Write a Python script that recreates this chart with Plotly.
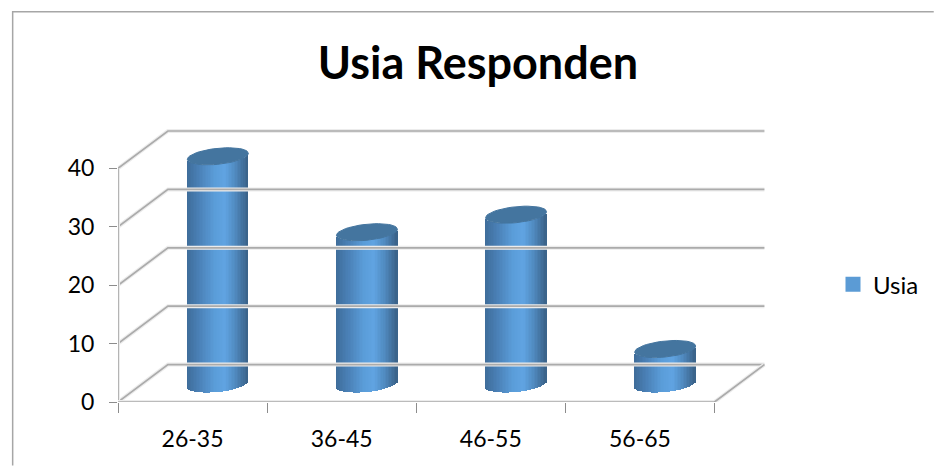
import math
import plotly.graph_objects as go

categories = ["26-35", "36-45", "46-55", "56-65"]
usia_values = [39, 26, 29, 6]
y_ticks = [0, 10, 20, 30, 40]
title_text = "Usia Responden"
series_name = "Usia"

FONT = "Lato, Carlito, sans-serif"
W, H = 935, 466
L, R, T, B = 118, 767, 129, 402.5      # plot box in px
PX_X, PX_Y = 149.35, 5.85             # px per category / per unit
DX, DY = 50 / PX_X, 37.5 / PX_Y       # depth of the 3D box
GRID = "#ababab"
SHADOW = "#ececec"
TICK = "#8c8c8c"
CAP = "#44759f"

HALF_W = 30.5 / PX_X
ELL_B = 8.0 / PX_Y
ELL_K = 3.0 / PX_Y
OFF_X = 25.3 / PX_X
OFF_Y = 18.0 / PX_Y

stops = [(-1, (62, 108, 153)), (-0.6, (74, 128, 182)), (-0.1, (90, 156, 216)),
         (0.25, (96, 164, 226)), (0.6, (80, 138, 192)), (0.85, (66, 112, 156)), (1, (58, 98, 136))]


def shade(u):
    for (a, ca), (b, cb) in zip(stops, stops[1:]):
        if a <= u <= b:
            t = (u - a) / (b - a)
            return "rgb(%d,%d,%d)" % tuple(round(p + (q - p) * t) for p, q in zip(ca, cb))
    return "rgb(%d,%d,%d)" % stops[-1][1]


def guide(fig, xs, ys):
    for color, width in ((SHADOW, 4), (GRID, 1.7)):
        fig.add_trace(go.Scatter(x=xs, y=ys, mode="lines", line=dict(color=color, width=width),
                                 hoverinfo="skip", showlegend=False, cliponaxis=False))


fig = go.Figure()

# 3D box: walls and floor
x0, x1 = -0.5, len(categories) - 0.5
for v in y_ticks:
    guide(fig, [x0, x0 + DX, x1 + DX], [v, v + DY, v + DY])
guide(fig, [x0, x0], [y_ticks[0], y_ticks[-1]])
guide(fig, [x0, x1, x1 + DX], [0, 0, DY])

# Cylinders: narrow vertical slices give the shaded body
N = 40
xc = [i + OFF_X for i in range(len(categories))]
for j in range(N):
    u = -1 + (j + 0.5) * 2 / N
    edge = ELL_K * u - ELL_B * math.sqrt(max(0, 1 - u * u))
    fig.add_trace(go.Bar(
        x=[c + u * HALF_W for c in xc],
        y=usia_values,
        base=[OFF_Y + edge] * len(categories),
        width=HALF_W * 2 / N * 1.25,
        marker=dict(color=shade(u), line=dict(width=0)),
        hoverinfo="skip", showlegend=False))

# Cylinder top caps
for c, v in zip(xc, usia_values):
    ts = [2 * math.pi * k / 48 for k in range(49)]
    fig.add_trace(go.Scatter(
        x=[c + HALF_W * math.cos(t) for t in ts],
        y=[OFF_Y + v + ELL_K * math.cos(t) + ELL_B * math.sin(t) for t in ts],
        mode="lines", fill="toself", fillcolor=CAP, line=dict(color=CAP, width=1),
        hoverinfo="skip", showlegend=False))

# Legend entry
fig.add_trace(go.Scatter(x=[None], y=[None], mode="markers", name=series_name,
                         marker=dict(symbol="square", size=15, color="#5b9bd5")))


def px(x):
    return (x - L) / (R - L)


def py(y):
    return (B - y) / (B - T)


fig.add_shape(type="path", xref="paper", yref="paper",
              path=f"M {px(12.5)} {py(466)} L {px(12.5)} {py(11.5)} L {px(935)} {py(11.5)}",
              line=dict(color="#a6a6a6", width=1.5))

fig.update_layout(
    width=W, height=H, autosize=False, barmode="overlay", bargap=0,
    paper_bgcolor="white", plot_bgcolor="white",
    margin=dict(l=L, r=W - R, t=T, b=H - B, pad=0),
    font=dict(family=FONT, size=23, color="black"),
    title=dict(text=f"<b>{title_text}</b>", x=478 / W, xanchor="center", y=1 - 63 / H, yanchor="middle",
               font=dict(family=FONT, size=45, color="black")),
    legend=dict(x=px(833), xanchor="left", y=py(285), yanchor="middle", borderwidth=0,
                bgcolor="rgba(0,0,0,0)", font=dict(family=FONT, size=24), itemwidth=30),
    xaxis=dict(range=[x0, x0 + (R - L) / PX_X], tickmode="array", automargin=False,
               tickvals=list(range(len(categories))), ticktext=categories,
               ticks="outside", ticklen=16, tickcolor="rgba(0,0,0,0)", showgrid=False, zeroline=False,
               showline=False,
               minor=dict(tickmode="array", tickvals=[i - 0.5 for i in range(len(categories) + 1)],
                          ticks="outside", ticklen=10, tickcolor=TICK, tickwidth=1, showgrid=False)),
    yaxis=dict(range=[0, (B - T) / PX_Y], tickmode="array", tickvals=y_ticks, automargin=False,
               ticks="outside", ticklen=8, tickcolor=TICK, tickwidth=1, showgrid=False, zeroline=False,
               showline=False, ticklabelstandoff=10),
)

fig.write_html("out.html", config={"displayModeBar": False},
               post_script="document.body.style.margin='0';")
